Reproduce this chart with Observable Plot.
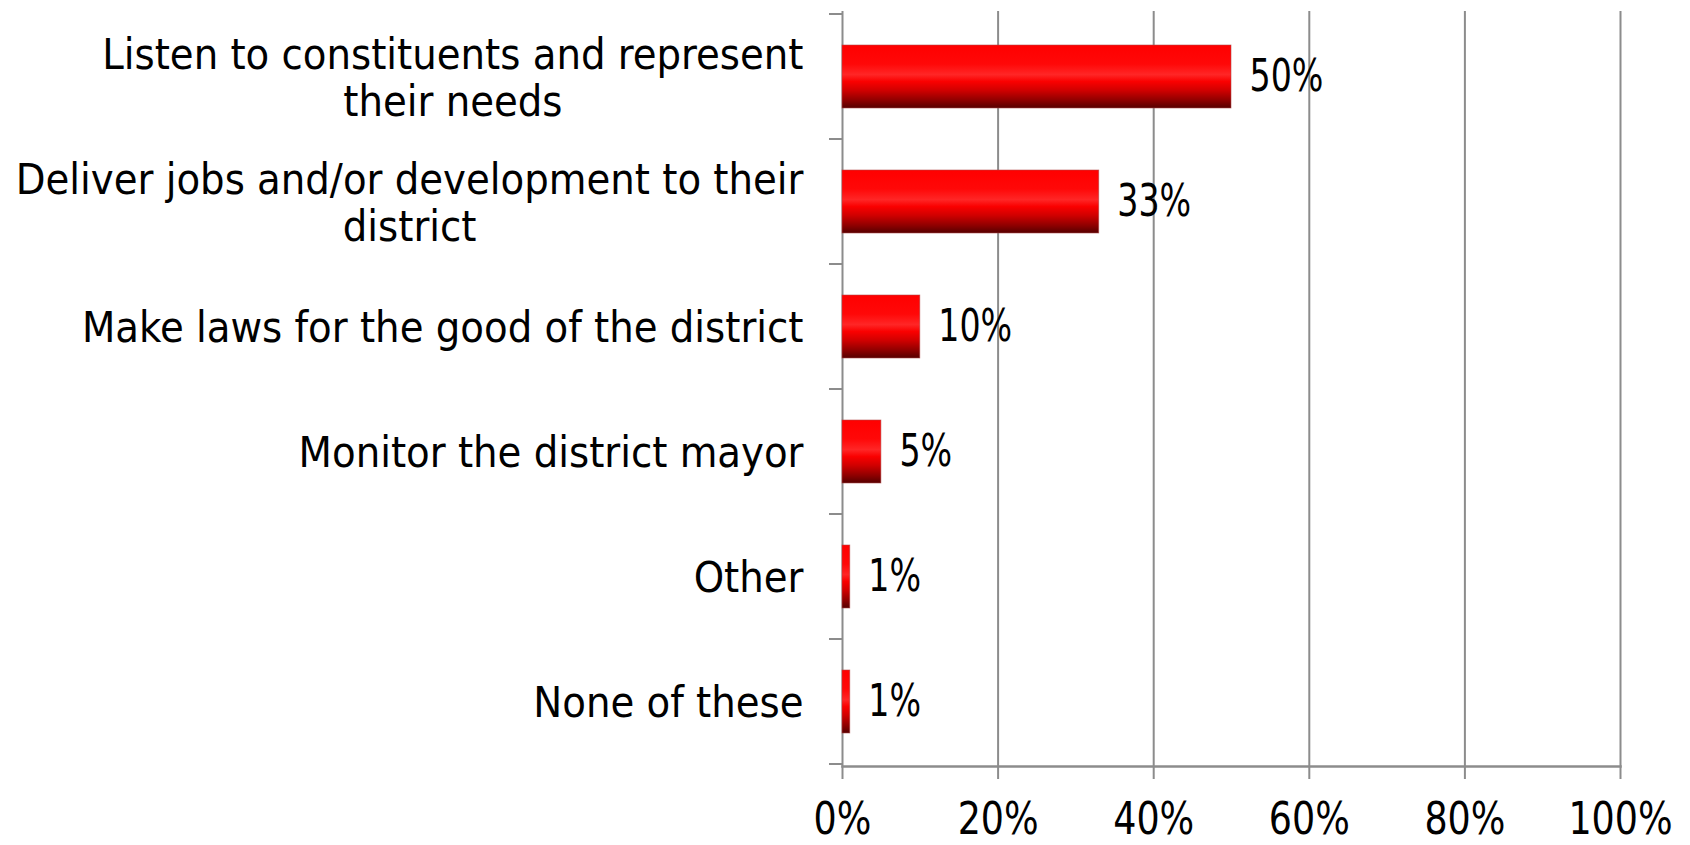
<!DOCTYPE html>
<html>
<head>
<meta charset="utf-8">
<script src="https://cdn.jsdelivr.net/npm/d3@7"></script>
<script src="https://cdn.jsdelivr.net/npm/@observablehq/plot@0.6"></script>
<style>
  html, body { margin: 0; padding: 0; background: #fff; }
  #chart { width: 1690px; height: 845px; }
</style>
</head>
<body>
<div id="chart"></div>
<script>
// ---- data ----
const categories = [
  "Listen to constituents and represent their needs",
  "Deliver jobs and/or development to their district",
  "Make laws for the good of the district",
  "Monitor the district mayor",
  "Other",
  "None of these"
];
const labelLines = [
  ["Listen to constituents and represent", "their needs"],
  ["Deliver jobs and/or development to their", "district"],
  ["Make laws for the good of the district"],
  ["Monitor the district mayor"],
  ["Other"],
  ["None of these"]
];
const values = [50, 33, 10, 5, 1, 1];
const xTicks = [0, 20, 40, 60, 80, 100];

// ---- styling ----
const FONT = '"DejaVu Sans Condensed", sans-serif';
const catFont = 43;
const barFont = 44;
const tickFont = 45;
const barSqueeze = 0.84;   // narrow numerals as in the reference
const tickSqueeze = 0.9;
const gridColor = "#8c8c8c";
const labelGap = 39;

const rows = categories.map((c, i) => ({cat: c, value: values[i], lines: labelLines[i]}));

// measure text widths for centered multi-line category labels
const ctx = document.createElement("canvas").getContext("2d");
ctx.font = `${catFont}px ${FONT}`;
const maxWidth = lines => Math.max(...lines.map(l => ctx.measureText(l).width));

const width = 1690, height = 845;
const marginLeft = 842, marginRight = 70, marginTop = 11, marginBottom = 79;

const labelMarks = rows.map(r => Plot.text([r], {
  y: "cat",
  frameAnchor: "left",
  lineAnchor: "middle",
  text: d => d.lines.join("\n"),
  textAnchor: "middle",
  dx: -(labelGap + maxWidth(r.lines) / 2),
  lineHeight: 1.1,
  fontSize: catFont,
  fill: "#000"
}));

const plot = Plot.plot({
  width, height,
  marginLeft, marginRight, marginTop, marginBottom,
  style: {fontFamily: FONT, background: "#fff", color: "#000"},
  x: {domain: [0, 100], axis: null},
  y: {domain: categories, paddingInner: 0.5, paddingOuter: 0.25, axis: null},
  marks: [
    Plot.ruleX(xTicks, {stroke: gridColor, strokeWidth: 2}),
    Plot.frame({anchor: "bottom", stroke: gridColor, strokeWidth: 2.5}),
    Plot.axisX({ticks: xTicks, tickSize: 13, tickFormat: () => "", label: null, stroke: gridColor, strokeWidth: 2}),
    Plot.barX(rows, {x: "value", y: "cat", fill: "url(#barGrad)", stroke: "#b04848", strokeWidth: 0.8, strokeOpacity: 0.7}),
    Plot.text(rows, {x: "value", y: "cat", text: d => d.value + "%", textAnchor: "start", lineAnchor: "middle", dx: 18, fontSize: barFont, fill: "#000"}),
    Plot.text(xTicks, {x: d => d, frameAnchor: "bottom", lineAnchor: "middle", text: d => d + "%", dy: 53, fontSize: tickFont, fill: "#000"}),
    ...labelMarks
  ]
});

const svg = d3.select(plot);

// narrow the percentage numerals (horizontal squeeze around each text anchor)
svg.selectAll("text").filter(function() { return /%$/.test(this.textContent); }).each(function() {
  const t = d3.select(this);
  const s = t.attr("font-size") == tickFont || this.parentNode.getAttribute("font-size") == tickFont ? tickSqueeze : barSqueeze;
  const tr = t.attr("transform") || "";
  t.attr("transform", `${tr} scale(${s},1)`);
});

// gradient for the bars
const grad = svg.insert("defs", ":first-child").append("linearGradient")
  .attr("id", "barGrad").attr("x1", 0).attr("y1", 0).attr("x2", 0).attr("y2", 1);
[[0, "#ff0000"], [0.3, "#ff0808"], [0.47, "#ff2626"], [0.58, "#fa0000"], [0.72, "#d00000"], [0.88, "#8e0000"], [1, "#560000"]]
  .forEach(([o, c]) => grad.append("stop").attr("offset", o).attr("stop-color", c));

// category boundary ticks on the left of the y axis (from the band scale)
const ys = plot.scale("y");
const xs = plot.scale("x");
const x0 = xs.apply(0);
const half = (ys.step - ys.bandwidth) / 2;
const bounds = categories.map(c => ys.apply(c) - half);
bounds.push(ys.apply(categories[categories.length - 1]) + ys.bandwidth + half);
svg.append("g").selectAll("line").data(bounds).join("line")
  .attr("x1", x0 - 13).attr("x2", x0).attr("y1", d => d).attr("y2", d => d)
  .attr("stroke", gridColor).attr("stroke-width", 2);

document.getElementById("chart").appendChild(plot);
</script>
</body>
</html>
